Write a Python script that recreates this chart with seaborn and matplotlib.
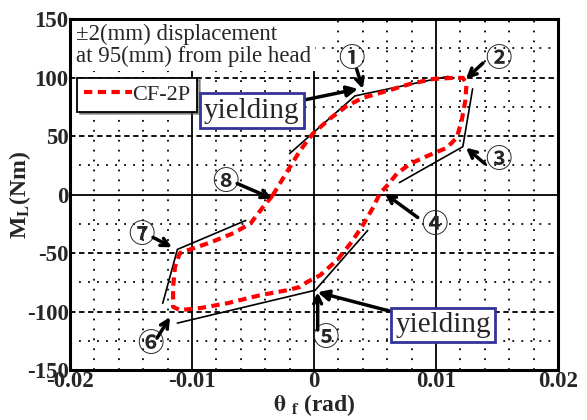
import matplotlib
matplotlib.use("Agg")
import numpy as np
import pandas as pd
import seaborn as sns
import matplotlib.pyplot as plt

# ---------------- data ----------------
loop_theta = [-0.0034, -0.0028, -0.0020, -0.00115, -0.0001, 0.0013, 0.0027, 0.0040,
              0.0060, 0.0079, 0.0098, 0.0114, 0.0122, 0.0125, 0.0124, 0.0121, 0.0117,
              0.0109, 0.0093, 0.0079, 0.0068, 0.0060, 0.0054, 0.0048, 0.0039, 0.0030,
              0.0019, 0.0005, -0.0006, -0.00115, -0.0022, -0.0044, -0.0071, -0.0093,
              -0.0110, -0.01155, -0.01155, -0.0114, -0.0110, -0.0099, -0.0085, -0.0066,
              -0.0052, -0.0042, -0.0034]
loop_moment = [-0.9, 9.4, 23.0, 37.5, 52.0, 64.8, 75.8, 82.6,
               88.6, 94.6, 98.8, 99.7, 99.7, 94.6, 80.0, 63.0, 48.6,
               40.0, 33.0, 26.4, 17.9, 7.7, 0.9, -11.9, -28.0, -41.7,
               -56.0, -69.0, -75.0, -79.0, -81.8, -86.0, -92.9, -97.0,
               -98.8, -96.0, -79.0, -62.0, -50.0, -46.0, -41.0, -33.0,
               -24.7, -11.0, -0.9]

skel_a_theta = [-0.0020, 0.00336, 0.0110]
skel_a_moment = [35.0, 84.3, 101.0]
skel_b_theta = [0.0130, 0.0122, 0.0070]
skel_b_moment = [90.3, 40.9, 10.2]
skel_c_theta = [0.0044, 0.0001, -0.0112]
skel_c_moment = [-30.7, -81.8, -109.9]
skel_d_theta = [-0.0124, -0.0112, -0.0056]
skel_d_moment = [-92.9, -46.9, -22.2]

x_ticks = [-0.02, -0.01, 0, 0.01, 0.02]
x_tick_labels = ["-0.02", "-0.01", "0", "0.01", "0.02"]
y_ticks = [-150, -100, -50, 0, 50, 100, 150]
y_tick_labels = ["-150", "-100", "-50", "0", "50", "100", "150"]

series_name = "CF-2P"
note_text = "\u00b12(mm) displacement\nat 95(mm) from pile head"
step_labels = ["\u2460", "\u2461", "\u2462", "\u2463", "\u2464", "\u2465", "\u2466", "\u2467"]

# ---------------- style ----------------
sns.set_style("white")
plt.rcParams['font.family'] = ['Liberation Serif', 'DejaVu Serif']
plt.rcParams['mathtext.fontset'] = 'stix'
plt.rcParams['axes.unicode_minus'] = False

fig = plt.figure(figsize=(5.87, 4.2), dpi=100)
ax = fig.add_axes([0.1193, 0.119, 0.8313, 0.8357])

# grid
for v in [-0.018, -0.016, -0.014, -0.012, -0.008, -0.006, -0.004, -0.002,
          0.002, 0.004, 0.006, 0.008, 0.012, 0.014, 0.016, 0.018]:
    ax.axvline(v, color='black', lw=1.3, ls=(0, (1, 4.5)), zorder=0)
for v in [-0.01, 0, 0.01]:
    ax.axvline(v, color='black', lw=1.3, zorder=0)
for v in [-125, -75, -25, 25, 75, 125]:
    ax.axhline(v, color='black', lw=1.3, ls=(0, (1, 4)), zorder=0)
for v in [-100, -50, 50, 100]:
    ax.axhline(v, color='black', lw=1.3, ls=(0, (3, 2)), zorder=0)
ax.axhline(0, color='black', lw=1.3, zorder=0)

# skeleton lines
for sx, sy in [(skel_a_theta, skel_a_moment), (skel_b_theta, skel_b_moment),
               (skel_c_theta, skel_c_moment), (skel_d_theta, skel_d_moment)]:
    sns.lineplot(x=sx, y=sy, sort=False, estimator=None, color='black', lw=1.2,
                 ax=ax, zorder=2)

# hysteresis loop
df = pd.DataFrame({"theta": loop_theta, "M": loop_moment})
sns.lineplot(data=df, x="theta", y="M", sort=False, estimator=None, color='#ff0000',
             lw=3.0, ax=ax, zorder=3, label=series_name)
ax.lines[-1].set_linestyle((0, (2.0, 1.3)))

ax.set_xlim(-0.02, 0.02)
ax.set_ylim(-150, 150)
ax.set_xticks(x_ticks)
ax.set_xticklabels(x_tick_labels, fontweight='bold')
ax.set_yticks(y_ticks)
ax.set_yticklabels(y_tick_labels, fontweight='bold')
ax.tick_params(labelsize=16.5, direction='in', length=5, width=1.2, pad=1)
for sp in ax.spines.values():
    sp.set_linewidth(2.2)
    sp.set_color('black')

ax.set_xlabel(r"$\mathbf{\theta}$ $_{\mathbf{f}}$ (rad)", fontsize=17, fontweight='bold',
              labelpad=0)
ax.set_ylabel(r"M$_{\mathbf{L}}$(Nm)", fontsize=17, fontweight='bold')
ax.yaxis.set_label_coords(-0.076, 0.5)

leg = ax.legend(loc='upper left', bbox_to_anchor=(0.014, 0.833), frameon=True,
                fancybox=False, shadow=True, fontsize=16, handlelength=2.2,
                handletextpad=0.0, borderpad=0.3, borderaxespad=0)
leg.get_frame().set_edgecolor('black')
leg.get_frame().set_linewidth(1.3)

# note box (white background over grid)
ax.text(0.013, 0.985, note_text, transform=ax.transAxes, ha='left', va='top',
        fontsize=16.5, linespacing=1.05, zorder=5,
        bbox=dict(facecolor='white', edgecolor='none', pad=2.5))

# yielding boxes
ybox = dict(boxstyle='square,pad=0.15', facecolor='white', edgecolor='#333399', lw=2)
ax.annotate("yielding", xy=(0.0036, 90.3), xytext=(-0.0051, 71.6), fontsize=21,
            ha='center', va='center', bbox=ybox, zorder=6,
            arrowprops=dict(arrowstyle='-|>', lw=2.5, color='black', mutation_scale=16,
                            shrinkA=0, shrinkB=0))
ax.annotate("yielding", xy=(0.0003, -83.5), xytext=(0.01057, -111.6), fontsize=21,
            ha='center', va='center', bbox=ybox, zorder=6,
            arrowprops=dict(arrowstyle='-|>', lw=2.5, color='black', mutation_scale=16,
                            shrinkA=0, shrinkB=0))

# numbered step annotations: (text pos, arrow tail, arrow head)
steps = [
    ((0.0031, 115.8), (0.0035, 107.0), (0.0040, 90.3)),
    ((0.0151, 115.8), (0.01385, 112.4), (0.01246, 98.8)),
    ((0.0151, 29.0), (0.0140, 26.4), (0.01246, 40.0)),
    ((0.0099, -26.4), (0.0085, -19.6), (0.0058, 0.85)),
    ((0.0009, -122.7), (0.0003, -115.8), (0.0003, -83.5)),
    ((-0.01344, -128.6), (-0.01287, -122.7), (-0.0118, -104.8)),
    ((-0.01418, -34.9), (-0.0132, -36.6), (-0.01164, -45.1)),
    ((-0.0073, 10.2), (-0.0063, 9.4), (-0.00344, -3.4)),
]
for lab, (tp, tail, head) in zip(step_labels, steps):
    ax.text(tp[0], tp[1], lab, fontsize=19, ha='center', va='center', fontweight='bold',
            family=['Noto Sans CJK JP', 'DejaVu Sans'], zorder=6)
    ax.annotate("", xy=head, xytext=tail,
                arrowprops=dict(arrowstyle='->', lw=2.5, color='black',
                                mutation_scale=14, shrinkA=0, shrinkB=0), zorder=6)

fig.savefig("out.png", dpi=100)
